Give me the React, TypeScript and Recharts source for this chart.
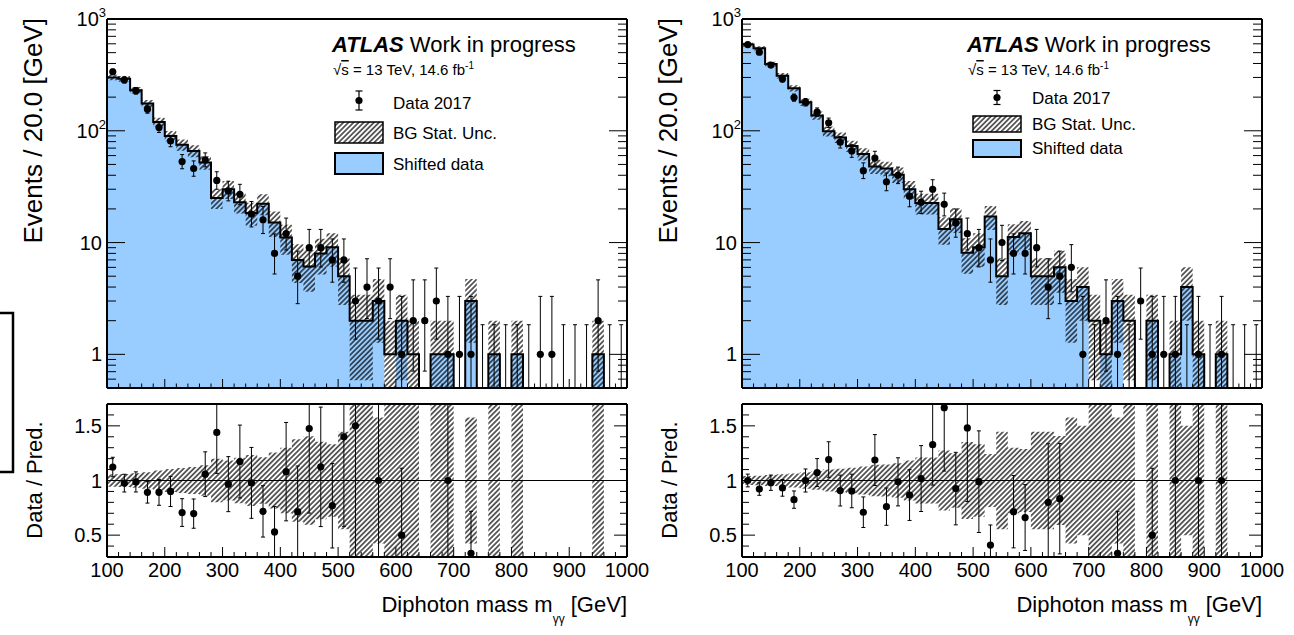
import React from 'react';
import { ComposedChart, Area, Line, Scatter, ErrorBar, XAxis, YAxis, ReferenceLine } from 'recharts';

const FONT = '"Liberation Sans", Arial, Helvetica, sans-serif';
const FILL_BLUE = '#99ccff';

// Diphoton mass binning: 20 GeV bins between 100 and 1000 GeV
const MASS_LOW = 100;
const MASS_HIGH = 1000;
const BIN_WIDTH = 20;

// ---- left pad ----
// shifted-data background (outline heights)
const leftShifted = [300, 292, 231, 175, 120, 90, 75, 66, 52, 25, 30, 23, 18.4, 22.3, 15.1, 11.1, 7.0, 6.1, 8.0, 9.1, 5.0, 2, 2, 3, 1, 2, 1, 0, 1, 1, 0, 3, 0, 1, 0, 1, 0, 0, 0, 0, 0, 0, 1, 0, 0];
// filled part of the shifted-data histogram
const leftShiftedFilled = [300, 292, 231, 175, 120, 90, 75, 66, 52, 25, 30, 23, 18.4, 22.3, 15.1, 11.1, 7.0, 6.1, 8.0, 9.1, 5.0, 2, 2, 3, 0, 2, 0, 0, 1, 1, 0, 3, 0, 1, 0, 1, 0, 0, 0, 0, 0, 0, 1, 0, 0];
// Data 2017 event counts
const leftData = [337, 285, 228, 156, 107, 81, 53, 46, 55, 36, 29, 27, 18, 16, 8, 12, 5, 9, 9, 7, 7, 3, 4, 3, 4, 1, 2, 2, 3, 1, 1, 1, 0, 0, 0, 0, 0, 1, 1, 0, 0, 0, 2, 0, 0];

// ---- right pad ----
const rightShifted = [590, 547, 395, 311, 240, 180, 137, 99, 87, 73, 62, 48, 46, 40.5, 30, 22.6, 22.6, 13.2, 16.2, 8.1, 9.1, 17.1, 5, 11.2, 12.1, 5, 5, 6, 3, 4, 2, 1, 3, 2, 0, 2, 0, 1, 4, 1, 0, 1, 0, 0, 0];
const rightShiftedFilled = [590, 547, 395, 311, 240, 180, 137, 99, 87, 73, 62, 48, 46, 40.5, 30, 22.6, 22.6, 13.2, 16.2, 8.1, 9.1, 17.1, 5, 11.2, 12.1, 5, 5, 6, 3, 4, 0, 1, 3, 0, 0, 2, 0, 1, 4, 1, 0, 1, 0, 0, 0];
const rightData = [590, 504, 387, 290, 198, 180, 147, 118, 79, 66, 44, 57, 35, 40, 26, 23, 30, 22, 15, 12, 9, 7, 10, 8, 8, 9, 4, 5, 6, 1, 0, 2, 1, 0, 3, 1, 1, 1, 0, 1, 0, 1, 0, 0, 0];

// ---- axis ticks ----
const massAllTicks = Array.from({ length: (MASS_HIGH - MASS_LOW) / BIN_WIDTH + 1 }, (_, i) => MASS_LOW + i * BIN_WIDTH);
const eventMajorTicks = [1, 10, 100, 1000];
const eventMinorTicks = [0.6, 0.7, 0.8, 0.9, 2, 3, 4, 5, 6, 7, 8, 9, 20, 30, 40, 50, 60, 70, 80, 90, 200, 300, 400, 500, 600, 700, 800, 900];
const ratioMajorTicks = [0.5, 1, 1.5];
const ratioMinorTicks = [0.4, 0.6, 0.7, 0.8, 0.9, 1.1, 1.2, 1.3, 1.4, 1.6];

const EVENTS_MIN = 0.5;
const EVENTS_MAX = 1000;
const RATIO_MIN = 0.3;
const RATIO_MAX = 1.7;

const clamp = (v: number, lo: number, hi: number) => Math.min(Math.max(v, lo), hi);

// 68.27% central Poisson intervals for small counts
const poissonTable: [number, number][] = [
  [0, 1.841], [0.173, 3.3], [0.708, 4.638], [1.367, 5.918], [2.086, 7.163],
  [2.84, 8.382], [3.62, 9.584], [4.419, 10.77], [5.232, 11.95], [6.057, 13.11],
  [6.891, 14.27], [7.734, 15.42], [8.585, 16.56], [9.441, 17.7], [10.3, 18.83],
  [11.17, 19.96], [12.04, 21.08], [12.92, 22.2], [13.8, 23.32], [14.68, 24.44], [15.57, 25.55],
];
function poissonInterval(n: number): [number, number] {
  if (n < poissonTable.length) return poissonTable[n];
  return [n - Math.sqrt(n), n + Math.sqrt(n) + 1];
}

const binLow = (i: number) => MASS_LOW + i * BIN_WIDTH;

type HistRow = { x: number; fill: number | null; outline: number; band: [number, number] | null };
function histRows(shifted: number[], filled: number[]): HistRow[] {
  const rows: HistRow[] = [];
  shifted.forEach((b, i) => {
    const f = filled[i];
    const band: [number, number] | null = b > 0
      ? [clamp(b - Math.sqrt(b), EVENTS_MIN, EVENTS_MAX), clamp(b + Math.sqrt(b), EVENTS_MIN, EVENTS_MAX)]
      : null;
    [binLow(i), binLow(i) + BIN_WIDTH].forEach((x) => {
      rows.push({ x, fill: f > 0 ? f : null, outline: Math.max(b, EVENTS_MIN), band });
    });
  });
  return rows;
}

type RatioRow = { x: number; band: [number, number] | null };
function ratioRows(shifted: number[]): RatioRow[] {
  const rows: RatioRow[] = [];
  shifted.forEach((b, i) => {
    const band: [number, number] | null = b > 0
      ? [clamp(1 - 1 / Math.sqrt(b), RATIO_MIN, RATIO_MAX), clamp(1 + 1 / Math.sqrt(b), RATIO_MIN, RATIO_MAX)]
      : null;
    [binLow(i), binLow(i) + BIN_WIDTH].forEach((x) => rows.push({ x, band }));
  });
  return rows;
}

type PointRow = { x: number; y: number; empty: boolean; err: [number, number] };
function dataPoints(counts: number[]): PointRow[] {
  return counts.map((n, i) => {
    const [lo, hi] = poissonInterval(n);
    const y = n > 0 ? n : EVENTS_MIN;
    return {
      x: binLow(i) + BIN_WIDTH / 2,
      y,
      empty: n === 0,
      err: [y - clamp(lo, EVENTS_MIN, EVENTS_MAX), clamp(hi, EVENTS_MIN, EVENTS_MAX) - y],
    };
  });
}

function ratioPoints(counts: number[], shifted: number[]): PointRow[] {
  const out: PointRow[] = [];
  counts.forEach((n, i) => {
    const b = shifted[i];
    if (n <= 0 || b <= 0) return;
    const r = n / b;
    if (r < RATIO_MIN || r > RATIO_MAX) return;
    const e = r * Math.sqrt(1 / n + 1 / b);
    out.push({
      x: binLow(i) + BIN_WIDTH / 2,
      y: r,
      empty: false,
      err: [r - clamp(r - e, RATIO_MIN, RATIO_MAX), clamp(r + e, RATIO_MIN, RATIO_MAX) - r],
    });
  });
  return out;
}

// ---- tick renderers (ticks point into the frame) ----
type Side = 'bottom' | 'top' | 'left' | 'right';
function makeTick(side: Side, isMajor: (v: number) => boolean, majorLen: number, minorLen: number, label?: (v: number) => React.ReactNode) {
  return (props: any) => {
    const { x, y, payload } = props;
    const v = payload.value as number;
    const major = isMajor(v);
    const len = major ? majorLen : minorLen;
    let x2 = x, y2 = y;
    if (side === 'bottom') y2 = y - len;
    if (side === 'top') y2 = y + len;
    if (side === 'left') x2 = x + len;
    if (side === 'right') x2 = x - len;
    let text: React.ReactNode = null;
    if (label && major) {
      if (side === 'bottom') {
        text = <text x={x} y={y + 20} textAnchor="middle" fontSize={20} fontFamily={FONT} fill="#000">{label(v)}</text>;
      } else if (side === 'left') {
        const powered = v >= 100;
        text = <text x={x - (powered ? 1 : 5)} y={y + 7} textAnchor="end" fontSize={20} fontFamily={FONT} fill="#000">{label(v)}</text>;
      }
    }
    return (
      <g>
        <line x1={x} y1={y} x2={x2} y2={y2} stroke="#000" strokeWidth={1} />
        {text}
      </g>
    );
  };
}

const isMassMajor = (v: number) => v % 100 === 0;
const isEventMajor = (v: number) => eventMajorTicks.includes(v);
const isRatioMajor = (v: number) => ratioMajorTicks.includes(v);

const massLabel = (v: number) => String(v);
const eventLabel = (v: number): React.ReactNode => {
  if (v === 1) return '1';
  if (v === 10) return '10';
  const exp = Math.round(Math.log10(v));
  return (
    <>
      <tspan>10</tspan>
      <tspan dy={-9} fontSize={13}>{exp}</tspan>
    </>
  );
};
const ratioLabel = (v: number) => String(v);

const frameLine = { stroke: '#000', strokeWidth: 2 };

function Hatch({ id }: { id: string }) {
  return (
    <pattern id={id} patternUnits="userSpaceOnUse" width={3.6} height={3.6} patternTransform="rotate(45)">
      <line x1={1.8} y1={-1} x2={1.8} y2={4.6} stroke="#000" strokeWidth={1.2} />
    </pattern>
  );
}

const dataDot = (props: any) => {
  if (props.payload?.empty) return <g />;
  return <circle cx={props.cx} cy={props.cy} r={3.6} fill="#000" />;
};

// Axes are given a 1px band so they render; margins absorb it.
function MassPad({ shifted, filled, counts, hatchId }: { shifted: number[]; filled: number[]; counts: number[]; hatchId: string }) {
  const rows = histRows(shifted, filled);
  const points = dataPoints(counts);
  const eventTicks = [...eventMinorTicks, ...eventMajorTicks].sort((a, b) => a - b);
  return (
    <ComposedChart width={660} height={400} data={rows} margin={{ top: 18, right: 32, bottom: 11, left: 106 }}>
      <defs>
        <Hatch id={hatchId} />
      </defs>
      <XAxis xAxisId="b" dataKey="x" type="number" domain={[MASS_LOW, MASS_HIGH]} allowDataOverflow ticks={massAllTicks} interval={0}
        tick={makeTick('bottom', isMassMajor, 9, 4.5)} tickLine={false} tickSize={0} tickMargin={0} height={1} axisLine={frameLine} />
      <XAxis xAxisId="t" orientation="top" type="number" domain={[MASS_LOW, MASS_HIGH]} allowDataOverflow ticks={massAllTicks} interval={0}
        tick={makeTick('top', isMassMajor, 9, 4.5)} tickLine={false} tickSize={0} tickMargin={0} height={1} axisLine={frameLine} />
      <YAxis yAxisId="l" type="number" scale="log" domain={[EVENTS_MIN, EVENTS_MAX]} allowDataOverflow ticks={eventTicks} interval={0}
        tick={makeTick('left', isEventMajor, 18, 9, eventLabel)} tickLine={false} tickSize={0} tickMargin={0} width={1} axisLine={frameLine} />
      <YAxis yAxisId="r" orientation="right" type="number" scale="log" domain={[EVENTS_MIN, EVENTS_MAX]} allowDataOverflow ticks={eventTicks} interval={0}
        tick={makeTick('right', isEventMajor, 18, 9)} tickLine={false} tickSize={0} tickMargin={0} width={1} axisLine={frameLine} />
      <Area xAxisId="b" yAxisId="l" type="linear" dataKey="fill" fill={FILL_BLUE} fillOpacity={1} stroke="none" isAnimationActive={false} connectNulls={false} />
      <Area xAxisId="b" yAxisId="l" type="linear" dataKey="band" fill={`url(#${hatchId})`} fillOpacity={1} stroke="none" isAnimationActive={false} connectNulls={false} />
      <Line xAxisId="b" yAxisId="l" type="linear" dataKey="outline" stroke="#000" strokeWidth={2} dot={false} isAnimationActive={false} />
      <Scatter xAxisId="b" yAxisId="l" data={points} dataKey="y" shape={dataDot} isAnimationActive={false}>
        <ErrorBar dataKey="err" direction="y" width={2} stroke="#000" strokeWidth={1} />
      </Scatter>
    </ComposedChart>
  );
}

function RatioPad({ shifted, counts, hatchId }: { shifted: number[]; counts: number[]; hatchId: string }) {
  const rows = ratioRows(shifted);
  const points = ratioPoints(counts, shifted);
  const rTicks = [...ratioMinorTicks, ...ratioMajorTicks].sort((a, b) => a - b);
  return (
    <ComposedChart width={660} height={200} data={rows} margin={{ top: 13, right: 32, bottom: 32, left: 106 }}>
      <defs>
        <Hatch id={hatchId} />
      </defs>
      <XAxis xAxisId="b" dataKey="x" type="number" domain={[MASS_LOW, MASS_HIGH]} allowDataOverflow ticks={massAllTicks} interval={0}
        tick={makeTick('bottom', isMassMajor, 10, 5, massLabel)} tickLine={false} tickSize={0} tickMargin={0} height={1} axisLine={frameLine} />
      <XAxis xAxisId="t" orientation="top" type="number" domain={[MASS_LOW, MASS_HIGH]} allowDataOverflow ticks={massAllTicks} interval={0}
        tick={makeTick('top', isMassMajor, 10, 5)} tickLine={false} tickSize={0} tickMargin={0} height={1} axisLine={frameLine} />
      <YAxis yAxisId="l" type="number" domain={[RATIO_MIN, RATIO_MAX]} allowDataOverflow ticks={rTicks} interval={0}
        tick={makeTick('left', isRatioMajor, 13, 7, ratioLabel)} tickLine={false} tickSize={0} tickMargin={0} width={1} axisLine={frameLine} />
      <YAxis yAxisId="r" orientation="right" type="number" domain={[RATIO_MIN, RATIO_MAX]} allowDataOverflow ticks={rTicks} interval={0}
        tick={makeTick('right', isRatioMajor, 13, 7)} tickLine={false} tickSize={0} tickMargin={0} width={1} axisLine={frameLine} />
      <Area xAxisId="b" yAxisId="l" type="linear" dataKey="band" fill={`url(#${hatchId})`} fillOpacity={1} stroke="none" isAnimationActive={false} connectNulls={false} />
      <ReferenceLine xAxisId="b" yAxisId="l" y={1} stroke="#000" strokeWidth={1} />
      <Scatter xAxisId="b" yAxisId="l" data={points} dataKey="y" shape={dataDot} isAnimationActive={false}>
        <ErrorBar dataKey="err" direction="y" width={2} stroke="#000" strokeWidth={1} />
      </Scatter>
    </ComposedChart>
  );
}

type LegendLayout = {
  dx: number; textX: number; boxX: number; markerY: number; errHalf: number;
  dataBase: number; hatchBox: [number, number]; hatchBase: number; blueBox: [number, number]; blueBase: number;
};

function PadLegend({ l, hatchId }: { l: LegendLayout; hatchId: string }) {
  const mx = l.boxX + 24;
  return (
    <g fontFamily={FONT} fill="#000">
      <text x={332 + l.dx} y={52} fontSize={22}>
        <tspan fontWeight="bold" fontStyle="italic">ATLAS</tspan>
        <tspan> Work in progress</tspan>
      </text>
      <text x={333 + l.dx} y={75} fontSize={15}>
        <tspan>√</tspan>
        <tspan style={{ textDecoration: 'overline' }}>s</tspan>
        <tspan> = 13 TeV, 14.6 fb</tspan>
        <tspan dy={-6} fontSize={10}>-1</tspan>
      </text>
      <line x1={mx} y1={l.markerY - l.errHalf} x2={mx} y2={l.markerY + l.errHalf} stroke="#000" strokeWidth={1.2} />
      <line x1={mx - 3.5} y1={l.markerY - l.errHalf} x2={mx + 3.5} y2={l.markerY - l.errHalf} stroke="#000" strokeWidth={1.2} />
      <line x1={mx - 3.5} y1={l.markerY + l.errHalf} x2={mx + 3.5} y2={l.markerY + l.errHalf} stroke="#000" strokeWidth={1.2} />
      <circle cx={mx} cy={l.markerY} r={3.6} fill="#000" />
      <text x={l.textX} y={l.dataBase} fontSize={17}>Data 2017</text>
      <rect x={l.boxX} y={l.hatchBox[0]} width={48} height={l.hatchBox[1] - l.hatchBox[0]} fill={`url(#${hatchId})`} stroke="#000" strokeWidth={1.5} />
      <text x={l.textX} y={l.hatchBase} fontSize={17}>BG Stat. Unc.</text>
      <rect x={l.boxX} y={l.blueBox[0]} width={48} height={l.blueBox[1] - l.blueBox[0]} fill={FILL_BLUE} stroke="#000" strokeWidth={2} />
      <text x={l.textX} y={l.blueBase} fontSize={17}>Shifted data</text>
    </g>
  );
}

const leftLegend: LegendLayout = {
  dx: 0, textX: 393, boxX: 335, markerY: 100.5, errHalf: 9.5,
  dataBase: 108.5, hatchBox: [122, 143], hatchBase: 138.5, blueBox: [153, 174], blueBase: 169.5,
};
const rightLegend: LegendLayout = {
  dx: 635, textX: 1032, boxX: 973, markerY: 97.5, errHalf: 7,
  dataBase: 104, hatchBox: [116, 132], hatchBase: 130, blueBox: [140, 157], blueBase: 153.5,
};

function AxisTitles({ dx }: { dx: number }) {
  return (
    <g fontFamily={FONT} fill="#000">
      <text transform={`translate(${42 + dx},18) rotate(-90)`} textAnchor="end" fontSize={26}>Events / 20.0 [GeV]</text>
      <text transform={`translate(${42 + dx},480) rotate(-90)`} textAnchor="middle" fontSize={22}>Data / Pred.</text>
      <text x={627 + dx} y={612} textAnchor="end" fontSize={22}>
        <tspan>Diphoton mass m</tspan>
        <tspan dy={11} fontSize={12}>γγ</tspan>
        <tspan dy={-11}> [GeV]</tspan>
      </text>
    </g>
  );
}

export default function App() {
  return (
    <div style={{ position: 'absolute', left: 0, top: 0, width: 1294, height: 635, background: '#fff', overflow: 'hidden' }}>
      <div style={{ position: 'absolute', left: 0, top: 0 }}>
        <MassPad shifted={leftShifted} filled={leftShiftedFilled} counts={leftData} hatchId="hatchMainL" />
      </div>
      <div style={{ position: 'absolute', left: 0, top: 390 }}>
        <RatioPad shifted={leftShifted} counts={leftData} hatchId="hatchRatioL" />
      </div>
      <div style={{ position: 'absolute', left: 635, top: 0 }}>
        <MassPad shifted={rightShifted} filled={rightShiftedFilled} counts={rightData} hatchId="hatchMainR" />
      </div>
      <div style={{ position: 'absolute', left: 635, top: 390 }}>
        <RatioPad shifted={rightShifted} counts={rightData} hatchId="hatchRatioR" />
      </div>
      <svg width={1294} height={635} style={{ position: 'absolute', left: 0, top: 0, pointerEvents: 'none' }}>
        <defs>
          <Hatch id="hatchLegend" />
        </defs>
        <path d="M0,313 H13 V472 H0" fill="none" stroke="#000" strokeWidth={2.5} />
        <PadLegend l={leftLegend} hatchId="hatchLegend" />
        <PadLegend l={rightLegend} hatchId="hatchLegend" />
        <AxisTitles dx={0} />
        <AxisTitles dx={635} />
      </svg>
    </div>
  );
}
